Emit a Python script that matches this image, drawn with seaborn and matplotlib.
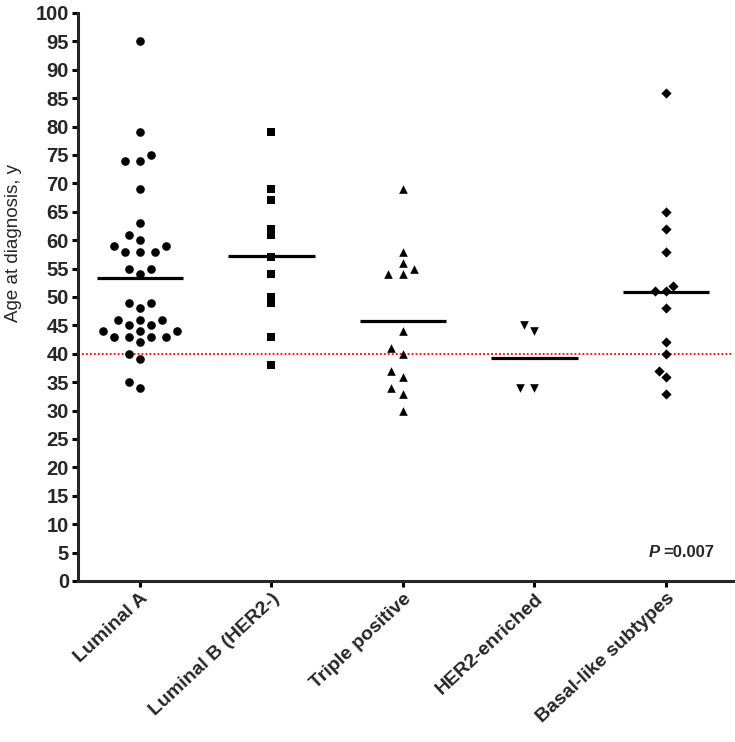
import matplotlib
matplotlib.use("Agg")
import matplotlib.pyplot as plt
import seaborn as sns
import pandas as pd
import numpy as np

categories = ["Luminal A", "Luminal B (HER2-)", "Triple positive", "HER2-enriched", "Basal-like subtypes"]
luminal_a = [95, 79, 75, 74, 74, 69, 63, 61, 60, 59, 59, 58, 58, 58, 55, 55, 54,
             49, 49, 48, 46, 46, 46, 45, 45, 44, 44, 44, 43, 43, 43, 43, 42, 40, 39, 35, 34]
luminal_b = [79, 69, 67, 62, 61, 57, 54, 50, 49, 43, 38]
triple_pos = [69, 58, 56, 55, 54, 54, 44, 41, 40, 37, 36, 34, 33, 30]
her2_enr = [45, 44, 34, 34]
basal = [86, 65, 62, 58, 52, 51, 51, 48, 42, 40, 37, 36, 33]
yticks = list(range(0, 101, 5))
cutoff = 40
p_text = "=0.007"

series = [luminal_a, luminal_b, triple_pos, her2_enr, basal]
markers = ["o", "s", "^", "v", "D"]
sizes = [6.2, 5.4, 6.2, 6.2, 5.2]
spread = [1.65, 0.0, 1.7, 1.6, 1.5]

df = pd.concat([pd.DataFrame({"group": c, "age": v}) for c, v in zip(categories, series)],
               ignore_index=True)

sns.set_style("ticks")
plt.rcParams["font.family"] = ["Liberation Sans", "DejaVu Sans"]

fig = plt.figure(figsize=(7.35, 7.42), dpi=100)
ax = fig.add_axes([78/735, 161/742, 655/735, 568/742])

ax.set_ylim(0, 100)
ax.set_xlim(-0.471, 4.51)

for i, (c, m, s, f) in enumerate(zip(categories, markers, sizes, spread)):
    sub = df[df.group == c]
    n_before = len(ax.collections)
    if f == 0:
        sns.stripplot(data=sub, x="group", y="age", order=categories, jitter=False,
                      marker=m, color="black", size=s, linewidth=0, ax=ax, zorder=3)
    else:
        sns.swarmplot(data=sub, x="group", y="age", order=categories,
                      marker=m, color="black", size=s, linewidth=0, ax=ax, zorder=3)
    ax.set_ylim(0, 100)
    ax.set_xlim(-0.471, 4.51)
    fig.canvas.draw()
    if f:
        for coll in ax.collections[n_before:]:
            if "draw" in coll.__dict__:
                del coll.__dict__["draw"]
            off = np.asarray(coll.get_offsets(), dtype=float).copy()
            if len(off):
                off[:, 0] = i + (off[:, 0] - i) * f
                coll.set_offsets(off)

means = df.groupby("group", sort=False)["age"].mean()
for i, c in enumerate(categories):
    ax.hlines(means[c], i - 0.33, i + 0.33, color="black", lw=2.3, zorder=4)

ax.axhline(cutoff, color="red", ls=(0, (1, 1.2)), lw=1.3, zorder=2)

ax.set_ylim(0, 100)
ax.set_xlim(-0.471, 4.51)
ax.set_yticks(yticks)
ax.set_yticklabels([str(t) for t in yticks], fontsize=14.5, fontweight="bold")
ax.set_xticks(range(len(categories)))
ax.set_xticklabels(categories, fontsize=14, fontweight="bold", rotation=43,
                   ha="right", rotation_mode="anchor")
ax.set_xlabel("")
ax.set_ylabel("Age at diagnosis, y", fontsize=13.5)
ax.yaxis.set_label_coords(-0.085, 0.595)
sns.despine(ax=ax)
for sp in ["left", "bottom"]:
    ax.spines[sp].set_linewidth(2.2)
ax.tick_params(axis="both", width=2.2, length=4.5, pad=2, color="black")

ax.text(3.95, 4.93, "P", fontsize=12, fontweight="bold", fontstyle="italic", ha="right", va="center")
ax.text(3.98, 4.93, p_text, fontsize=12, fontweight="bold", ha="left", va="center")

fig.savefig("out.png", dpi=100)
